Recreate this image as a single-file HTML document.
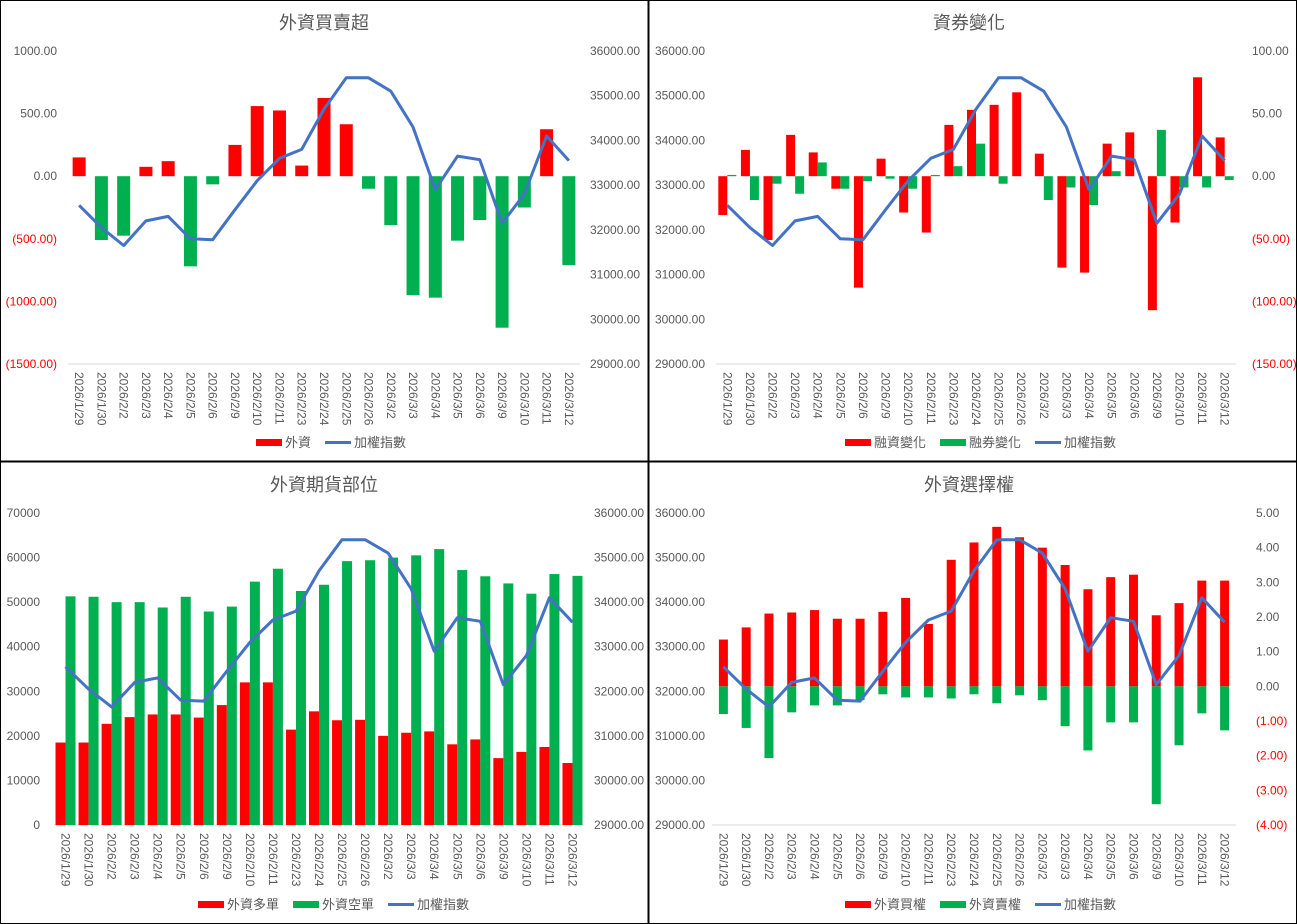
<!DOCTYPE html>
<html><head><meta charset="utf-8"><style>
html,body{margin:0;padding:0;background:#fff}
svg{display:block}
text{font-family:"Liberation Sans","Noto Sans CJK TC",sans-serif;fill:#595959;font-size:12px}
</style></head><body>
<svg id="s" width="1297" height="924" xmlns="http://www.w3.org/2000/svg"></svg>
<script>
const S=document.getElementById('s');let h='';
const D=['2026/1/29','2026/1/30','2026/2/2','2026/2/3','2026/2/4','2026/2/5','2026/2/6','2026/2/9','2026/2/10','2026/2/11','2026/2/23','2026/2/24','2026/2/25','2026/2/26','2026/3/2','2026/3/3','2026/3/4','2026/3/5','2026/3/6','2026/3/9','2026/3/10','2026/3/11','2026/3/12'];
const IDX=[32550,32050,31650,32200,32300,31800,31780,32450,33100,33600,33800,34700,35400,35400,35100,34300,32900,33650,33570,32150,32800,34100,33550];
const R='#ff0000',G='#00b050',B='#4472c4';
function fmt(v,d){let s=Math.abs(v).toFixed(d);return v<0?'('+s+')':s;}
function panel(o){
 const {x0,x1,top,bot,ox,title,legY}=o;const n=23,w=(x1-x0)/n;
 h+=`<text x="${ox}" y="${top-22}" text-anchor="middle" style="font-size:18px">${title}</text>`;
 const ly=(v,a)=>top+(a.max-v)/(a.max-a.min)*(bot-top);
 [o.L,o.Rt].forEach((a,i)=>{for(let v=a.max;v>=a.min-1e-9;v-=a.step){const y=ly(v,a);
  const neg=v<0&&a.red;const t=a.d===null?String(v):fmt(v,a.d);
  h+= i==0?`<text x="${a.px}" y="${y+4}" text-anchor="end" style="${neg?'fill:#ff0000':''}">${t}</text>`
   :`<text x="${a.px}" y="${y+4}" style="${neg?'fill:#ff0000':''}">${t}</text>`;}});
 h+=`<line x1="${x0}" x2="${x1}" y1="${bot}" y2="${bot}" stroke="#d9d9d9"/>`;
 o.bars.forEach((b,bi)=>{const a=b.ax;const z=ly(0,a);b.data.forEach((v,i)=>{
  const cx=x0+w*(i+.5)+b.off;const y=ly(v,a);const c=b.col||(v>=0?R:G);
  h+=`<rect x="${cx-b.bw/2}" y="${Math.min(y,z)}" width="${b.bw}" height="${Math.abs(y-z)}" fill="${c}"/>`;});});
 const ia=o.idx;let p=IDX.map((v,i)=>`${(x0+w*(i+.5)).toFixed(1)},${ly(v,ia).toFixed(1)}`).join(' ');
 h+=`<polyline points="${p}" fill="none" stroke="${B}" stroke-width="3" stroke-linejoin="round"/>`;
 D.forEach((d,i)=>{const cx=x0+w*(i+.5)-4;h+=`<text transform="translate(${cx},${bot+8}) rotate(90)" style="font-size:12px">${d}</text>`;});
 let lx=o.legX;o.leg.forEach(([c,t,line])=>{
  h+= line?`<rect x="${lx}" y="${legY-6}" width="26" height="3" fill="${c}"/>`:`<rect x="${lx}" y="${legY-8}" width="26" height="7" fill="${c}"/>`;
  h+=`<text x="${lx+29}" y="${legY}" style="font-size:13px">${t}</text>`;lx+=31+t.length*13+12;});
}
const IR={max:36000,min:29000,step:1000,d:2};
panel({x0:68,x1:580,top:51,bot:364,ox:324,title:'外資買賣超',legY:447,legX:256,
 L:{max:1000,min:-1500,step:500,d:2,red:1,px:57},Rt:{...IR,px:590},idx:IR,
 bars:[{ax:{max:1000,min:-1500},off:0,bw:13,data:[150,-510,-475,75,120,-720,-65,250,560,525,85,625,415,-100,-390,-950,-970,-515,-350,-1210,-250,375,-710]}],
 leg:[[R,'外資'],[B,'加權指數',1]]});
panel({x0:716,x1:1236,top:51,bot:364,ox:969,title:'資券變化',legY:447,legX:845,
 L:{...IR,px:705},Rt:{max:100,min:-150,step:50,d:2,red:1,px:1252},idx:IR,
 bars:[{ax:{max:100,min:-150},off:-4.5,bw:9,col:R,data:[-31,21,-51,33,19,-10,-89,14,-29,-45,41,53,57,67,18,-73,-77,26,35,-107,-37,79,31]},
  {ax:{max:100,min:-150},off:4.5,bw:9,col:G,data:[1,-19,-6,-14,11,-10,-4,-2,-10,1,8,26,-6,0,-19,-9,-23,4,0,37,-9,-9,-3]}],
 leg:[[R,'融資變化'],[G,'融券變化'],[B,'加權指數',1]]});
panel({x0:54,x1:584,top:513,bot:825,ox:324,title:'外資期貨部位',legY:909,legX:198,
 L:{max:70000,min:0,step:10000,d:null,px:40},Rt:{...IR,px:594},idx:IR,
 bars:[{ax:{max:70000,min:0},off:-5,bw:10,col:R,data:[18500,18500,22700,24200,24800,24800,24100,26900,32000,32000,21400,25500,23500,23600,20000,20700,21000,18100,19200,15000,16400,17500,13900]},
  {ax:{max:70000,min:0},off:5,bw:10,col:G,data:[51300,51200,50000,50000,48800,51200,47900,49000,54600,57500,52500,53900,59200,59400,60000,60500,61900,57200,55800,54200,51900,56300,55900]}],
 leg:[[R,'外資多單'],[G,'外資空單'],[B,'加權指數',1]]});
panel({x0:712,x1:1236,top:513,bot:825,ox:969,title:'外資選擇權',legY:909,legX:845,
 L:{...IR,px:705},Rt:{max:5,min:-4,step:1,d:2,red:1,px:1256},idx:IR,
 bars:[{ax:{max:5,min:-4},off:0,bw:9,col:R,data:[1.35,1.7,2.1,2.13,2.2,1.95,1.95,2.15,2.55,1.8,3.65,4.15,4.6,4.3,4.0,3.5,2.8,3.15,3.22,2.05,2.4,3.05,3.05]},
  {ax:{max:5,min:-4},off:0,bw:9,col:G,data:[-0.8,-1.2,-2.07,-0.75,-0.55,-0.55,-0.4,-0.23,-0.32,-0.32,-0.35,-0.23,-0.49,-0.26,-0.4,-1.15,-1.85,-1.04,-1.04,-3.4,-1.7,-0.78,-1.27]}],
 leg:[[R,'外資買權'],[G,'外資賣權'],[B,'加權指數',1]]});
h+=`<rect x="0.5" y="0.5" width="1296" height="923" fill="none" stroke="#000"/>
<line x1="648.5" x2="648.5" y1="0" y2="924" stroke="#000" stroke-width="2"/>
<line x1="0" x2="1297" y1="461.5" y2="461.5" stroke="#000" stroke-width="2"/>`;
S.innerHTML=h;
</script>
</body></html>
